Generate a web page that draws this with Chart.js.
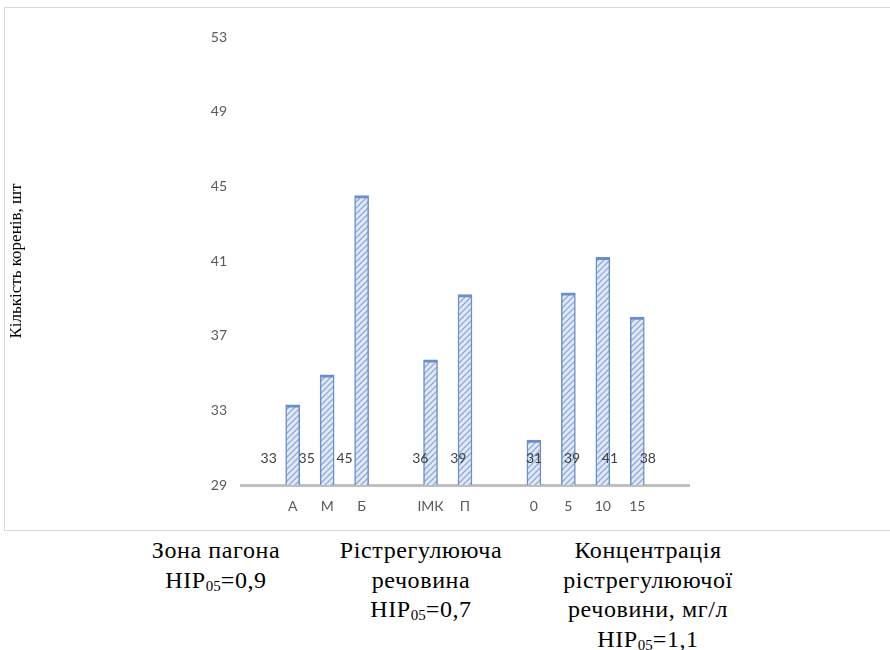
<!DOCTYPE html>
<html>
<head>
<meta charset="utf-8">
<script src="https://cdn.jsdelivr.net/npm/chart.js@4"></script>
<style>
  body { margin: 0; background: #fff; width: 890px; height: 650px; position: relative; overflow: hidden; }
  #frame { position: absolute; left: 4px; top: 7px; width: 900px; height: 524px; border: 1px solid #d9d9d9; box-sizing: border-box; }
  #wrap { position: absolute; left: 0; top: 0; width: 890px; height: 535px; }
  .group { position: absolute; top: 536px; font-family: "Liberation Serif", "Times New Roman", serif; font-size: 24px; letter-spacing: 0.6px; line-height: 29.5px; color: #000; text-align: center; white-space: nowrap; transform: translateX(-50%); }
  .group sub { font-size: 15px; letter-spacing: 0; vertical-align: -3px; line-height: 0; }
</style>
</head>
<body>
<div id="frame"></div>
<div id="wrap"><canvas id="chart" width="890" height="535"></canvas></div>
<div class="group" style="left:216px">Зона пагона<br>НІР<sub>05</sub>=0,9</div>
<div class="group" style="left:421px">Рістрегулююча<br>речовина<br>НІР<sub>05</sub>=0,7</div>
<div class="group" style="left:648px">Концентрація<br>рістрегулюючої<br>речовини, мг/л<br>НІР<sub>05</sub>=1,1</div>
<script>
// categories (empty strings are the gaps between groups)
const categories = ['', 'А', 'М', 'Б', '', 'ІМК', 'П', '', '0', '5', '10', '15', ''];
// bar heights
const rootCounts = [null, 33.3, 34.9, 44.5, null, 35.7, 39.2, null, 31.4, 39.3, 41.2, 38.0, null];
// data labels as printed on the chart
const valueLabels = ['', '33', '35', '45', '', '36', '39', '', '31', '39', '41', '38', ''];
const yMin = 29, yMax = 53, yStep = 4;
const yTitle = 'Кількість коренів, шт';

const makeHatch = () => {
  const c = document.createElement('canvas');
  c.width = 6; c.height = 6;
  const g = c.getContext('2d');
  g.fillStyle = '#e1e9f7';
  g.fillRect(0, 0, 6, 6);
  g.strokeStyle = '#8fabdc';
  g.lineWidth = 1.3;
  [[-3, 3, 3, -3], [0, 6, 6, 0], [3, 9, 9, 3]].forEach(([x1, y1, x2, y2]) => {
    g.beginPath(); g.moveTo(x1, y1); g.lineTo(x2, y2); g.stroke();
  });
  return g.createPattern(c, 'repeat');
};

// labels sit near the foot of each bar, spread out slightly from a pivot
const barLabels = {
  id: 'barLabels',
  afterDatasetsDraw(chart) {
    const { ctx, chartArea, scales } = chart;
    const meta = chart.getDatasetMeta(0);
    const pivot = chartArea.left + chartArea.width * 0.65;
    const y = scales.y.getPixelForValue(30.4);
    ctx.save();
    ctx.font = '14px Lato, "Noto Sans", sans-serif';
    ctx.fillStyle = '#404040';
    ctx.textAlign = 'center';
    ctx.textBaseline = 'middle';
    meta.data.forEach((bar, i) => {
      if (!valueLabels[i]) return;
      const x = bar.x + (bar.x - pivot) * 0.1;
      ctx.fillText(valueLabels[i], x, y);
    });
    ctx.restore();
  }
};

new Chart(document.getElementById('chart'), {
  type: 'bar',
  data: {
    labels: categories,
    datasets: [{
      data: rootCounts,
      backgroundColor: makeHatch(),
      borderColor: '#6a8ecb',
      borderWidth: { top: 3, left: 1.5, right: 1.5, bottom: 0 },
      borderSkipped: false,
      barThickness: 14,
    }]
  },
  options: {
    responsive: false,
    animation: false,
    layout: { padding: { left: 6, right: 201, top: 37, bottom: 0 } },
    plugins: { legend: { display: false }, tooltip: { enabled: false } },
    scales: {
      x: {
        grid: { display: false, drawTicks: false },
        border: { color: '#bfbfbf', width: 3 },
        ticks: { color: '#595959', font: { family: 'Lato', size: 14 }, padding: 13, autoSkip: false, maxRotation: 0 },
        afterFit: (s) => { s.height = 50; },
      },
      y: {
        min: yMin, max: yMax,
        grid: { display: false, drawTicks: false },
        border: { display: false },
        ticks: { stepSize: yStep, color: '#595959', font: { family: 'Lato', size: 14 }, padding: 14 },
        title: { display: true, text: yTitle, color: '#000', font: { family: '"Liberation Serif"', size: 17 }, padding: 0 },
        afterFit: (s) => { s.width = 235; },
      }
    }
  },
  plugins: [barLabels]
});
</script>
</body>
</html>
